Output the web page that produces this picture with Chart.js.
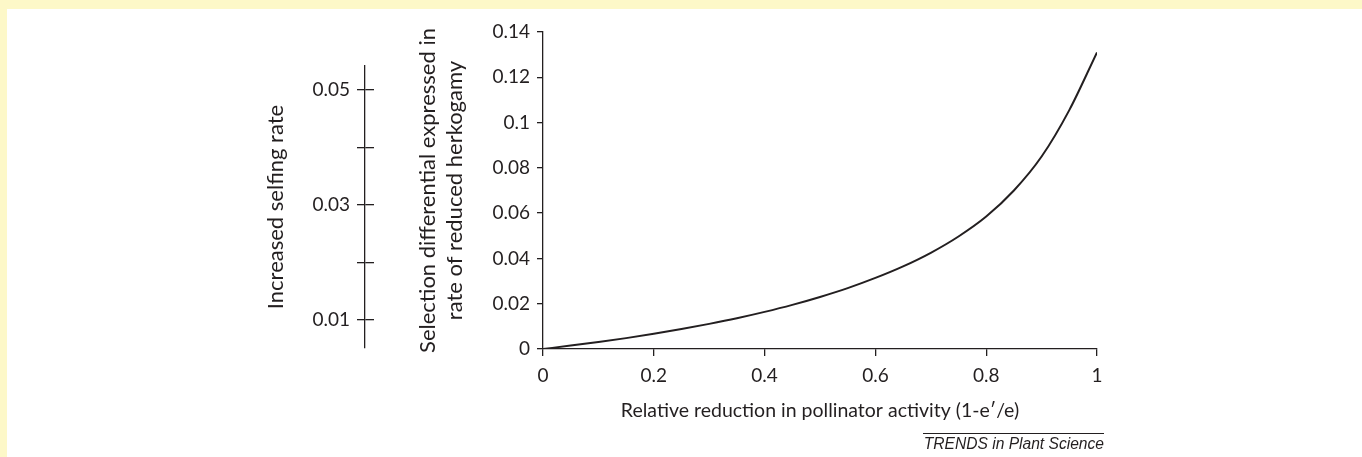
<!DOCTYPE html>
<html>
<head>
<meta charset="utf-8">
<script src="https://cdn.jsdelivr.net/npm/chart.js@4.4.1/dist/chart.umd.min.js"></script>
<style>
  body { margin: 0; background: #fdf8c8; width: 1362px; height: 457px; overflow: hidden; position: relative; }
  #sheet { position: absolute; left: 7px; top: 9px; width: 1355px; height: 448px; background: #fff; }
  #mainChart { position: absolute; left: 0; top: 0; }
  #selfingAxis { position: absolute; left: 248px; top: 31px; }
  #source {
    position: absolute; left: 916px; top: 424px; width: 181px;
    border-top: 1px solid #231f20; padding-top: 1px;
    font: italic 15.6px "Liberation Sans", Arial, sans-serif; color: #231f20; text-align: right;
    white-space: nowrap;
  }
</style>
</head>
<body>
<div id="sheet">
  <canvas id="mainChart" width="1355" height="448"></canvas>
  <canvas id="selfingAxis" width="200" height="330"></canvas>
  <div id="source">TRENDS in Plant Science</div>
</div>
<script>
// relative reduction in pollinator activity (x) and selection differential (y)
const reduction = [0, 0.05, 0.1, 0.15, 0.2, 0.25, 0.3, 0.35, 0.4, 0.45, 0.5, 0.55, 0.6, 0.65, 0.7, 0.75, 0.8, 0.85, 0.9, 0.95, 1];
const selection = [0, 0.0015, 0.0031, 0.0048, 0.0067, 0.0088, 0.0111, 0.0136, 0.0164, 0.0195, 0.023, 0.0269, 0.0314, 0.0365, 0.0425, 0.0497, 0.0585, 0.070, 0.085, 0.1055, 0.131];

// increased selfing rate axis
const selfingTicks = [0.01, 0.02, 0.03, 0.04, 0.05];
const selfingLabelled = [0.01, 0.03, 0.05];

const ink = '#231f20';
const tickFont = { family: 'Lato', size: 19 };
const yTitleFont = { family: 'Lato', size: 22, lineHeight: 1.25 };

Chart.defaults.color = ink;
Chart.defaults.animation = false;

const points = reduction.map((x, i) => ({ x: x, y: selection[i] }));

const mainChart = new Chart(document.getElementById('mainChart'), {
  type: 'scatter',
  data: {
    datasets: [{
      data: points,
      showLine: true,
      borderColor: ink,
      borderWidth: 2,
      pointRadius: 0,
      cubicInterpolationMode: 'monotone',
    }],
  },
  options: {
    responsive: false,
    layout: { padding: { left: 407, right: 265, top: 23, bottom: 0 } },
    plugins: { legend: { display: false }, tooltip: { enabled: false } },
    scales: {
      x: {
        type: 'linear',
        min: 0,
        max: 1,
        border: { color: ink, width: 1.3 },
        grid: { drawOnChartArea: false, tickLength: 7, color: ink, lineWidth: 1.3 },
        ticks: { stepSize: 0.2, padding: 8, font: tickFont, maxRotation: 0,
          callback: (v) => String(+v.toFixed(1)) },
        title: { display: true, text: 'Relative reduction in pollinator activity (1-e\u2032/e)',
          font: { family: 'Lato', size: 19.5 }, padding: { top: 0, bottom: 35 } },
        afterFit: (scale) => { scale.height = 108; },
      },
      y: {
        min: 0,
        max: 0.14,
        border: { color: ink, width: 1.3 },
        grid: { drawOnChartArea: false, tickLength: 6, color: ink, lineWidth: 1.3 },
        ticks: { stepSize: 0.02, padding: 7, font: tickFont,
          callback: (v) => String(+v.toFixed(2)) },
        title: { display: true, text: ['Selection differential expressed in', 'rate of reduced herkogamy'],
          font: yTitleFont, padding: { top: 0, bottom: 0 } },
        afterFit: (scale) => { scale.width = 129; },
      },
    },
  },
});

// Secondary axis: increased selfing rate
const selfingAxis = new Chart(document.getElementById('selfingAxis'), {
  type: 'scatter',
  data: { datasets: [] },
  options: {
    responsive: false,
    layout: { padding: { left: 0, right: 81, top: 26, bottom: 22 } },
    plugins: { legend: { display: false }, tooltip: { enabled: false } },
    scales: {
      x: { display: false, min: 0, max: 1 },
      y: {
        min: 0.00513,
        max: 0.05417,
        border: { color: ink, width: 1.3 },
        grid: { drawOnChartArea: true, tickLength: 8, color: ink, lineWidth: 1.3 },
        afterBuildTicks: (scale) => { scale.ticks = selfingTicks.map((v) => ({ value: v })); },
        ticks: { padding: 7, font: tickFont,
          callback: (v) => selfingLabelled.some((s) => Math.abs(s - v) < 1e-9) ? v.toFixed(2) : '' },
        title: { display: true, text: 'Increased selfing rate', font: { family: 'Lato', size: 22 },
          padding: { top: 8, bottom: 0 } },
        afterFit: (scale) => { scale.width = 110; },
      },
    },
  },
});
</script>
</body>
</html>
